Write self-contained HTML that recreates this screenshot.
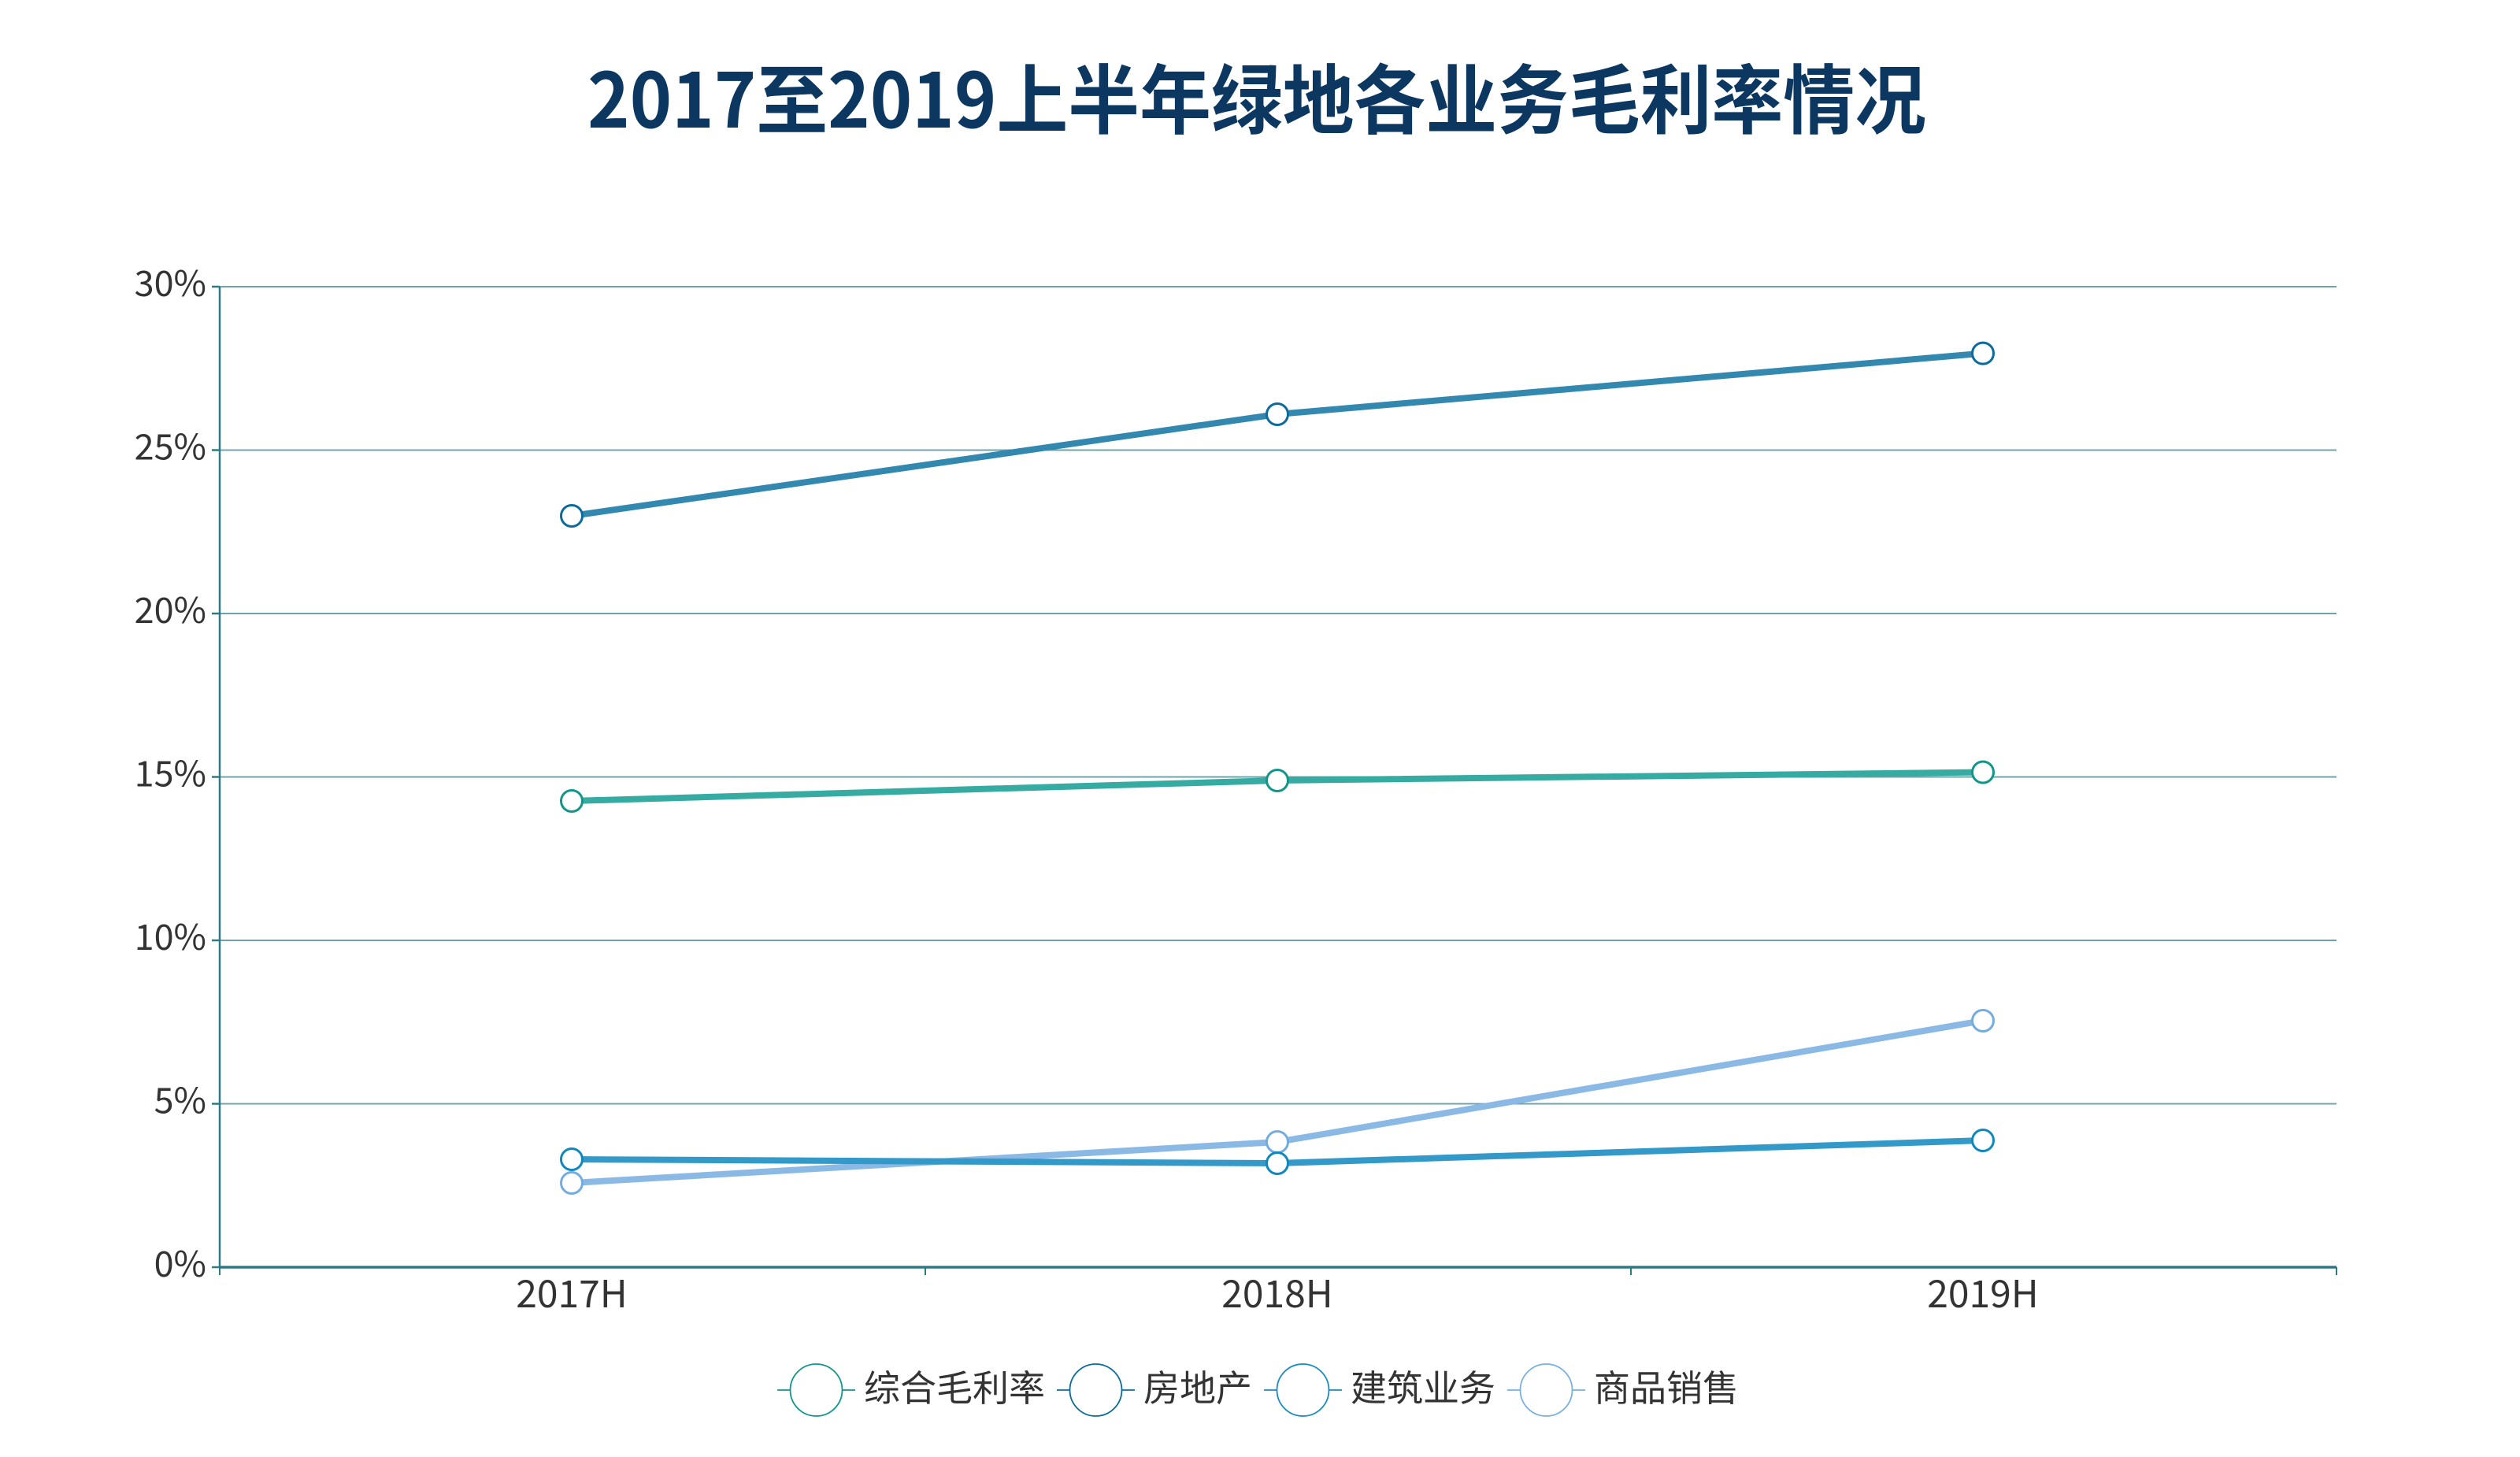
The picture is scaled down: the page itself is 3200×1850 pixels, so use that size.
<!DOCTYPE html>
<html>
<head>
<meta charset="utf-8">
<style>
  html, body { margin:0; padding:0; background:#ffffff; }
  svg { display:block; }
</style>
</head>
<body>
<svg width="3200" height="1850" viewBox="0 0 3200 1850" xmlns="http://www.w3.org/2000/svg" font-family="'Noto Sans CJK SC', 'Liberation Sans', sans-serif">
  <rect x="0" y="0" width="3200" height="1850" fill="#ffffff"/>

  <!-- Title -->
  <text x="1596" y="162" text-anchor="middle" font-size="96" font-weight="700" fill="#0b3761" font-family="'Noto Sans CJK SC', 'Liberation Sans', sans-serif" textLength="1700" lengthAdjust="spacingAndGlyphs">2017至2019上半年绿地各业务毛利率情况</text>

  <!-- Gridlines -->
  <g stroke="#6fa3a8" stroke-width="2">
    <line x1="279" y1="364" x2="2967" y2="364"/>
    <line x1="279" y1="571.5" x2="2967" y2="571.5"/>
    <line x1="279" y1="779" x2="2967" y2="779"/>
    <line x1="279" y1="986.5" x2="2967" y2="986.5"/>
    <line x1="279" y1="1194" x2="2967" y2="1194"/>
    <line x1="279" y1="1401.5" x2="2967" y2="1401.5"/>
  </g>

  <!-- Y axis and ticks -->
  <g stroke="#2e7a84" stroke-width="2.5">
    <line x1="279" y1="364" x2="279" y2="1609"/>
    <line x1="269" y1="364" x2="279" y2="364"/>
    <line x1="269" y1="571.5" x2="279" y2="571.5"/>
    <line x1="269" y1="779" x2="279" y2="779"/>
    <line x1="269" y1="986.5" x2="279" y2="986.5"/>
    <line x1="269" y1="1194" x2="279" y2="1194"/>
    <line x1="269" y1="1401.5" x2="279" y2="1401.5"/>
    <line x1="269" y1="1609" x2="279" y2="1609"/>
  </g>
  <!-- X axis -->
  <line x1="279" y1="1609" x2="2967" y2="1609" stroke="#2e7a84" stroke-width="3.5"/>
  <g stroke="#2e7a84" stroke-width="2">
    <line x1="279" y1="1609" x2="279" y2="1619"/>
    <line x1="1175" y1="1609" x2="1175" y2="1619"/>
    <line x1="2071" y1="1609" x2="2071" y2="1619"/>
    <line x1="2967" y1="1609" x2="2967" y2="1619"/>
  </g>

  <!-- Y labels -->
  <g font-family="'Noto Sans CJK SC', 'Liberation Sans', sans-serif" font-size="45" fill="#333333" text-anchor="end">
    <text x="262" y="376">30%</text>
    <text x="262" y="583.5">25%</text>
    <text x="262" y="791">20%</text>
    <text x="262" y="998.5">15%</text>
    <text x="262" y="1206">10%</text>
    <text x="262" y="1413.5">5%</text>
    <text x="262" y="1621">0%</text>
  </g>

  <!-- X labels -->
  <g font-family="'Noto Sans CJK SC', 'Liberation Sans', sans-serif" font-size="48" fill="#333333" text-anchor="middle">
    <text x="726" y="1660">2017H</text>
    <text x="1622" y="1660">2018H</text>
    <text x="2518" y="1660">2019H</text>
  </g>

  <!-- Series lines -->
  <g fill="none" stroke-width="8" stroke-linejoin="round" stroke-linecap="round">
    <polyline points="726,1017 1622,991 2518,980.5" stroke="#35aba2"/>
    <polyline points="726,655 1622,526 2518,448.6" stroke="#3388b0"/>
    <polyline points="726,1502 1622,1450 2518,1296" stroke="#8bb9e5"/>
    <polyline points="726,1472 1622,1477 2518,1448" stroke="#3399c8"/>
  </g>

  <!-- Markers -->
  <g fill="#ffffff" stroke-width="3">
    <g stroke="#12968a">
      <circle cx="726" cy="1017" r="13.5"/>
      <circle cx="1622" cy="991" r="13.5"/>
      <circle cx="2518" cy="980.5" r="13.5"/>
    </g>
    <g stroke="#0b6b9c">
      <circle cx="726" cy="655" r="13.5"/>
      <circle cx="1622" cy="526" r="13.5"/>
      <circle cx="2518" cy="448.6" r="13.5"/>
    </g>
    <g stroke="#74ace0">
      <circle cx="726" cy="1502" r="13.5"/>
      <circle cx="1622" cy="1450" r="13.5"/>
      <circle cx="2518" cy="1296" r="13.5"/>
    </g>
    <g stroke="#0f88bd">
      <circle cx="726" cy="1472" r="13.5"/>
      <circle cx="1622" cy="1477" r="13.5"/>
      <circle cx="2518" cy="1448" r="13.5"/>
    </g>
  </g>

  <!-- Legend -->
  <g stroke-width="1.8" fill="#ffffff">
    <line x1="987" y1="1765" x2="1086" y2="1765" stroke="#12968a"/>
    <circle cx="1036.5" cy="1765" r="33" stroke="#12968a"/>
    <line x1="1342" y1="1765" x2="1441" y2="1765" stroke="#0b6b9c"/>
    <circle cx="1391.5" cy="1765" r="33" stroke="#0b6b9c"/>
    <line x1="1605" y1="1765" x2="1704" y2="1765" stroke="#1a8cc0"/>
    <circle cx="1654.5" cy="1765" r="33" stroke="#1a8cc0"/>
    <line x1="1914" y1="1765" x2="2013" y2="1765" stroke="#7ab0e0"/>
    <circle cx="1963.5" cy="1765" r="33" stroke="#7ab0e0"/>
  </g>
  <g font-family="'Noto Sans CJK SC', 'Liberation Sans', sans-serif" font-size="46" fill="#333333">
    <text x="1097" y="1779">综合毛利率</text>
    <text x="1452" y="1779">房地产</text>
    <text x="1715" y="1779">建筑业务</text>
    <text x="2024" y="1779">商品销售</text>
  </g>
</svg>
</body>
</html>
